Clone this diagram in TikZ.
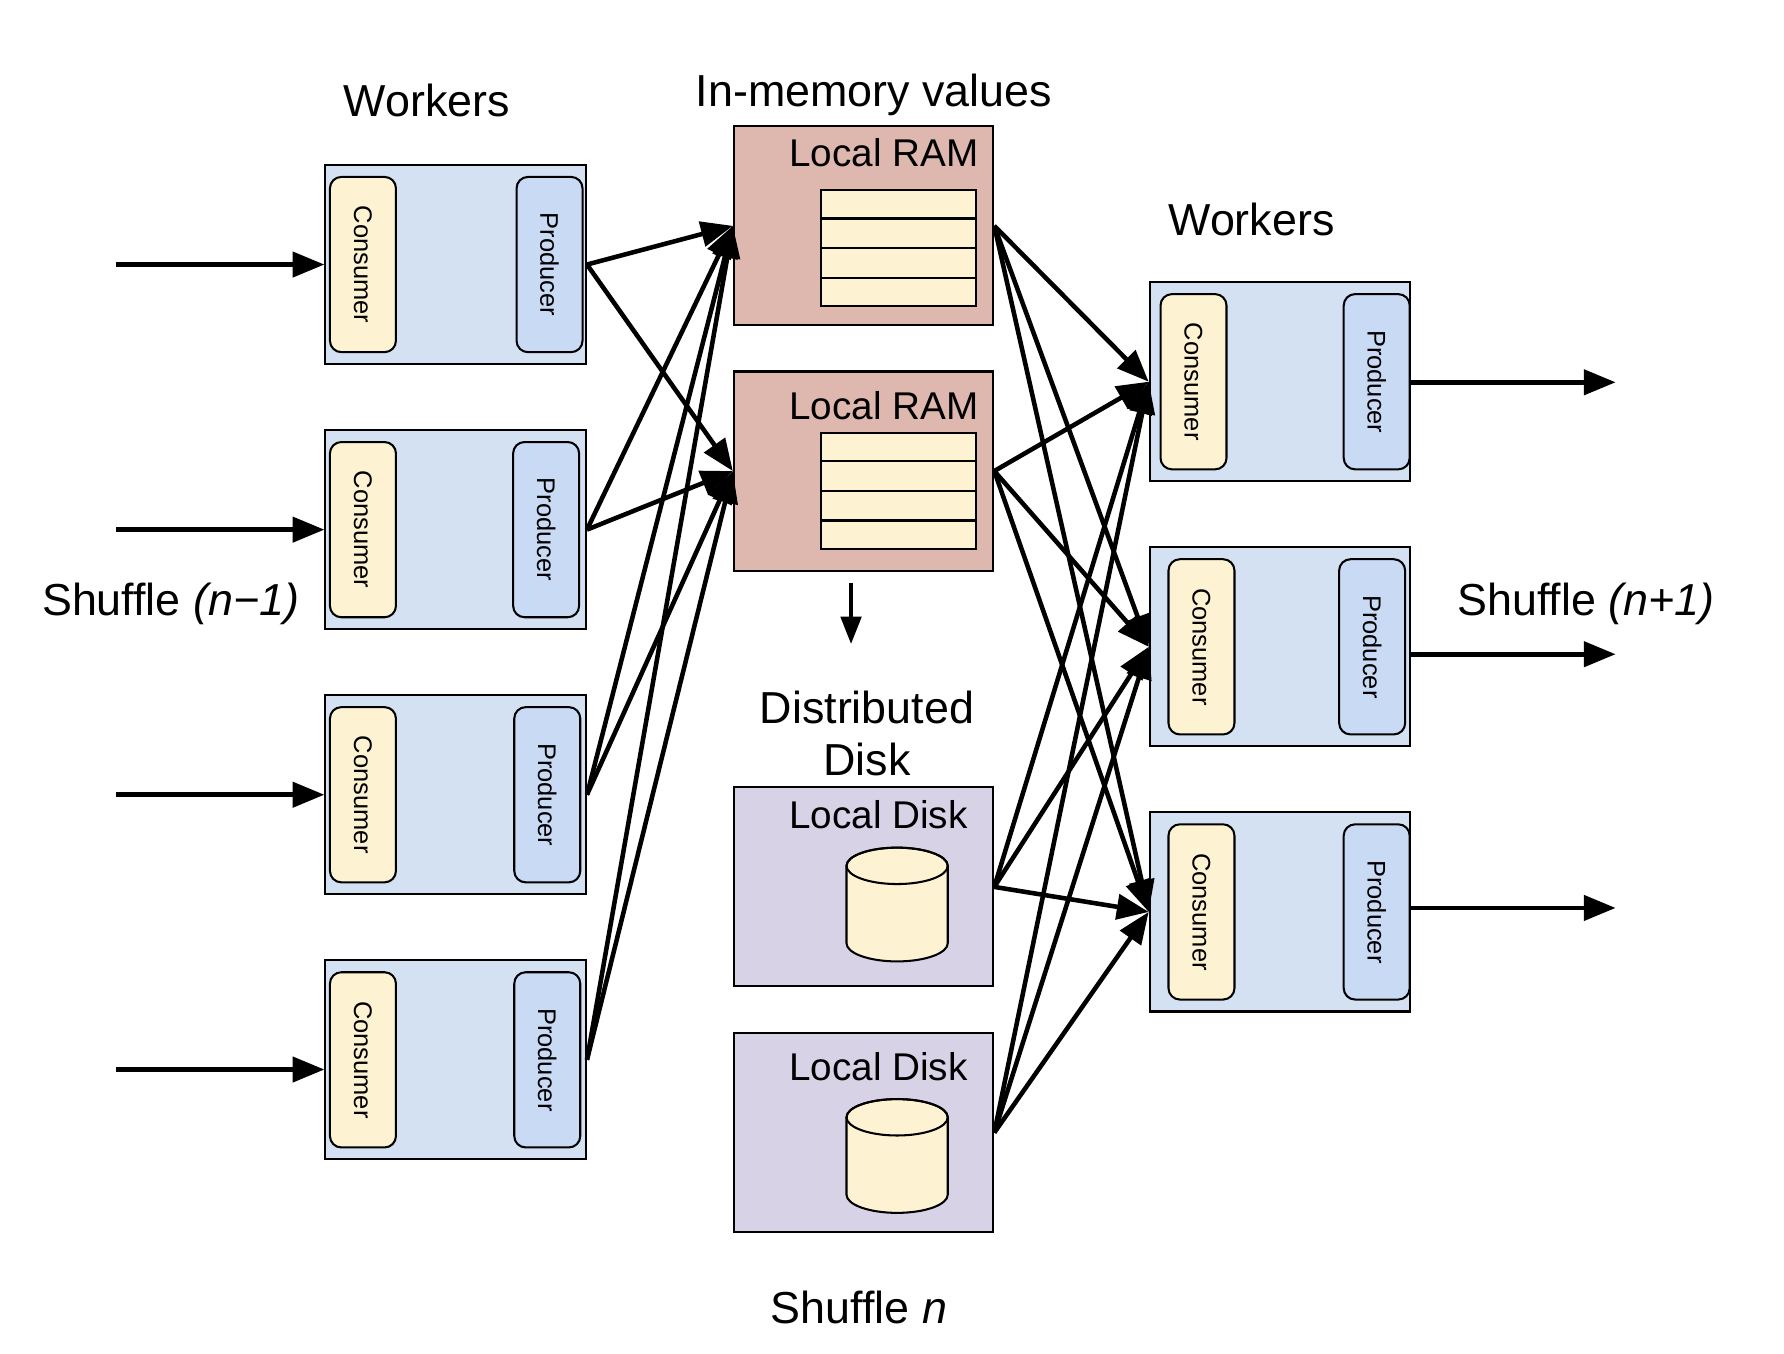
\documentclass[tikz,border=0pt]{standalone}
\usepackage{fontspec}
\setmainfont{Liberation Sans}
\usetikzlibrary{arrows.meta,calc}
\definecolor{wfill}{HTML}{D4E1F3}
\definecolor{cfill}{HTML}{FDF3D3}
\definecolor{pfill}{HTML}{C9DAF5}
\definecolor{rfill}{HTML}{DEB8AE}
\definecolor{dfill}{HTML}{D8D2E7}
\begin{document}
\begin{tikzpicture}[x=0.5pt,y=-0.5pt,
 wbox/.style={draw, fill=wfill, line width=0.9pt, minimum width=114.5pt, minimum height=87.5pt, inner sep=0},
 cbox/.style={draw, fill=cfill, line width=0.9pt, rounded corners=5pt, rotate=-90, minimum width=77pt, minimum height=29pt, inner sep=0, font=\fontsize{11.2}{13}\selectfont},
 pbox/.style={cbox, fill=pfill},
 rbox/.style={draw, fill=rfill, line width=0.9pt, minimum width=114pt, minimum height=87.5pt, inner sep=0},
 dbox/.style={rbox, fill=dfill},
 tbl/.style={draw, fill=cfill, line width=0.9pt, minimum width=68pt, minimum height=51pt, inner sep=0},
 title/.style={anchor=base, font=\fontsize{19.7}{22}\selectfont, inner sep=0},
 sub/.style={anchor=base, font=\fontsize{17}{20}\selectfont, inner sep=0},
 arr/.style={line width=2pt, -{Triangle[length=14pt,width=11pt]}},
 ]
\useasboundingbox (0,0) rectangle (1568,1190);

% left workers
\node[wbox] (W1) at (400.5,232.5) {};
\node[cbox] (C1) at (319,232.5) {Consumer};
\node[pbox] (P1) at (483,232.5) {Producer};
\node[wbox] (W2) at (400.5,465.5) {};
\node[cbox] (C2) at (319,465.5) {Consumer};
\node[pbox] (P2) at (480,465.5) {Producer};
\node[wbox] (W3) at (400.5,698.5) {};
\node[cbox] (C3) at (319,698.5) {Consumer};
\node[pbox] (P3) at (481,698.5) {Producer};
\node[wbox] (W4) at (400.5,931.5) {};
\node[cbox] (C4) at (319,931.5) {Consumer};
\node[pbox] (P4) at (481,931.5) {Producer};

% right workers
\node[wbox] (V1) at (1125,335.5) {};
\node[cbox] (RC1) at (1049,335.5) {Consumer};
\node[pbox] (RP1) at (1210,335.5) {Producer};
\node[wbox] (V2) at (1125,568.5) {};
\node[cbox] (RC2) at (1056,568.5) {Consumer};
\node[pbox] (RP2) at (1206,568.5) {Producer};
\node[wbox] (V3) at (1125,801.5) {};
\node[cbox] (RC3) at (1056,801.5) {Consumer};
\node[pbox] (RP3) at (1210,801.5) {Producer};

% RAM
\node[rbox] (R1) at (759,198.5) {};
\node[tbl] (T1) at (790,218) {};
\node[rbox] (R2) at (759,414) {};
\node[tbl] (T2) at (790,431.5) {};
\foreach \t in {T1,T2}
  \foreach \f in {0.25,0.5,0.75}
    \draw[line width=0.9pt] ($(\t.north west)!\f!(\t.south west)$) -- ($(\t.north east)!\f!(\t.south east)$);

% Disks
\node[dbox] (D1) at (759,779.5) {};
\node[dbox] (D2) at (759,995.5) {};
\foreach \ta/\bo in {761/829, 982/1050}{
  \filldraw[fill=cfill, line width=0.9pt] (744,\ta) -- (744,\bo)
    arc[start angle=180, end angle=0, x radius=44.5, y radius=16] -- (833,\ta)
    arc[start angle=0, end angle=-180, x radius=44.5, y radius=16] -- cycle;
  \draw[line width=0.9pt] (788.5,\ta) ellipse[x radius=44.5, y radius=16];
}

% labels
\node[title] (t1) at (375,102) {Workers};
\node[title] (t2) at (768,94) {In-memory values};
\node[title] (t3) at (1100,207) {Workers};
\node[sub] (lr1) at (777,146) {Local RAM};
\node[sub] (lr2) at (777,369) {Local RAM};
\node[title] (dd1) at (762,636) {Distributed};
\node[title] (dd2) at (762,682) {Disk};
\node[sub] (ld1) at (772,728) {Local Disk};
\node[sub] (ld2) at (772,950) {Local Disk};
\node[title] (sn) at (755,1163) {Shuffle \textit{n}};
\node[title] (s1) at (150,541) {Shuffle \textit{(n−1)}};
\node[title] (s2) at (1394,541) {Shuffle \textit{(n+1)}};

% input arrows
\coordinate (i1) at (102,232.5);
\coordinate (i2) at (102,465.5);
\coordinate (i3) at (102,698.5);
\coordinate (i4) at (102,940);
\draw[arr] (i1) -- (i1 -| W1.west);
\draw[arr] (i2) -- (i2 -| W2.west);
\draw[arr] (i3) -- (i3 -| W3.west);
\draw[arr] (i4) -- (i4 -| W4.west);

% output arrows
\coordinate (o1) at (1420,336);
\coordinate (o2) at (1420,575);
\coordinate (o3) at (1420,798);
\draw[arr] (o1 -| V1.east) -- (o1);
\draw[arr] (o2 -| V2.east) -- (o2);
\draw[arr] (o3 -| V3.east) -- (o3);

% producers to RAM
\foreach \w in {W1,W2,W3,W4}
  \foreach \r in {R1,R2}
    \draw[arr] (\w.east) -- (\r.west);

% sources to consumers
\foreach \s in {R1,R2,D1,D2}
  \foreach \v in {V1,V2,V3}
    \draw[arr] (\s.east) -- (\v.west);

% spill arrow
\coordinate (dn1) at (748,512);
\coordinate (dn2) at (748,566);
\draw[arr, line width=1.6pt, -{Triangle[length=12pt,width=9pt]}] (dn1) -- (dn2);
\end{tikzpicture}
\end{document}
